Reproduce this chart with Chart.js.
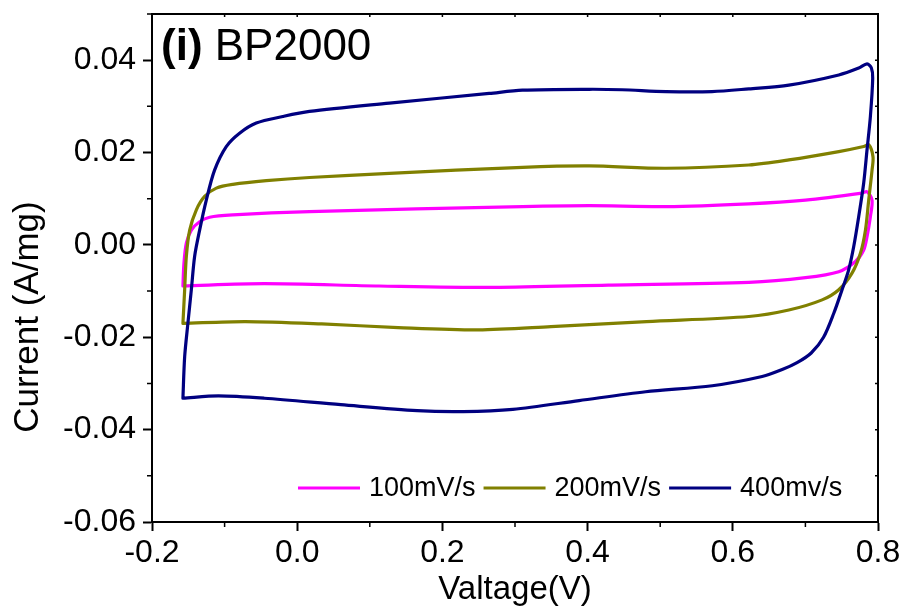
<!DOCTYPE html>
<html><head><meta charset="utf-8">
<script src="https://cdn.jsdelivr.net/npm/chart.js@4/dist/chart.umd.min.js"></script>
<style>html,body{margin:0;padding:0;background:#fff}#wrap{width:908px;height:613px}</style>
</head><body><div id="wrap"><canvas id="c" width="908" height="613"></canvas></div>
<script>
const seriesLabels = ['100mV/s', '200mV/s', '400mv/s'];
const seriesColors = ['#FF00FF', '#808000', '#000080'];

const volt100 = [-0.1574,-0.156,-0.1527,-0.1458,-0.1344,-0.1206,-0.0886,0.0169,0.3103,0.4021,0.5076,0.6221,0.7001,0.778,0.7849,0.7918,0.7895,0.7849,0.7803,0.7689,0.746,0.7001,0.6221,0.4285,0.2706,0.1127,-0.0453,-0.1574];
const curr100 = [-0.0089,-0.0040,0.0004,0.0032,0.0050,0.0060,0.0065,0.0072,0.0083,0.0085,0.0083,0.0089,0.0097,0.0112,0.0115,0.0097,0.0061,0.0018,-0.0011,-0.0036,-0.0058,-0.0071,-0.0081,-0.0087,-0.0092,-0.0089,-0.0084,-0.0089];

const volt200 = [-0.1574,-0.155,-0.1527,-0.1481,-0.1389,-0.1275,-0.1114,-0.0886,-0.0426,0.0169,0.127,0.3103,0.4021,0.5076,0.6221,0.6772,0.746,0.7803,0.7872,0.7931,0.7918,0.7872,0.7827,0.7758,0.7642,0.746,0.723,0.6772,0.6221,0.4812,0.3495,0.2495,0.1391,0.0337,-0.0715,-0.1574];
const curr200 = [-0.0170,-0.0097,-0.0025,0.0032,0.0076,0.0105,0.0123,0.0131,0.0139,0.0146,0.0155,0.0168,0.0171,0.0166,0.0173,0.0184,0.0202,0.0213,0.0217,0.0191,0.0162,0.0097,0.0032,-0.0018,-0.0061,-0.0097,-0.0119,-0.0141,-0.0155,-0.0166,-0.0177,-0.0184,-0.0179,-0.0171,-0.0166,-0.0170];

const volt400 = [-0.1574,-0.155,-0.1505,-0.1458,-0.1413,-0.1344,-0.1252,-0.1138,-0.0977,-0.0794,-0.0564,-0.0198,0.0169,0.127,0.2645,0.3103,0.4021,0.4475,0.5076,0.5713,0.6221,0.6772,0.746,0.7735,0.7849,0.7909,0.7927,0.7895,0.7849,0.7803,0.7734,0.7665,0.7596,0.7505,0.7391,0.725,0.7080,0.6885,0.668,0.6404,0.5717,0.48,0.3883,0.297,0.2285,0.1653,0.06,-0.0453,-0.1084,-0.1574];
const curr400 = [-0.0332,-0.0242,-0.0169,-0.0097,-0.0025,0.0032,0.0097,0.0162,0.0213,0.0242,0.0264,0.0278,0.0289,0.0307,0.0328,0.0335,0.0337,0.0336,0.0332,0.0332,0.0338,0.0346,0.0368,0.0383,0.0392,0.0383,0.0361,0.0278,0.0206,0.0134,0.0061,-0.0004,-0.0054,-0.0097,-0.0148,-0.0200,-0.0234,-0.0255,-0.0270,-0.0285,-0.0305,-0.0318,-0.0337,-0.0356,-0.0361,-0.0359,-0.0346,-0.0332,-0.0327,-0.0332];

const xTicks = [-0.2, 0.0, 0.2, 0.4, 0.6, 0.8];
const xMinor = [-0.1, 0.1, 0.3, 0.5, 0.7];
const yTicks = [-0.06, -0.04, -0.02, 0.00, 0.02, 0.04];
const yMinor = [-0.05, -0.03, -0.01, 0.01, 0.03, 0.05];
const xTitle = 'Valtage(V)';
const yTitle = 'Current (A/mg)';
const panelTag = '(i)';
const panelName = 'BP2000';

const FAM = '"Liberation Sans", Arial, Helvetica, sans-serif';
const pairs = (xs, ys) => xs.map((v, i) => ({x: v, y: ys[i]}));

const decor = {
  id: 'decor',
  afterDraw(chart) {
    const {ctx, chartArea: a, scales: {x, y}} = chart;
    ctx.save();
    ctx.strokeStyle = '#000';
    ctx.lineWidth = 2;
    ctx.strokeRect(a.left, a.top, a.right - a.left, a.bottom - a.top);
    ctx.lineWidth = 1.5;
    ctx.beginPath();
    xMinor.forEach(v => { const p = x.getPixelForValue(v); ctx.moveTo(p, a.bottom); ctx.lineTo(p, a.bottom + 5); });
    yMinor.forEach(v => { const p = y.getPixelForValue(v); ctx.moveTo(a.left, p); ctx.lineTo(a.left - 5, p); });
    xTicks.concat(xMinor).forEach(v => { const p = x.getPixelForValue(v); ctx.moveTo(p, a.top); ctx.lineTo(p, a.top + 3); });
    yTicks.concat(yMinor).forEach(v => { const p = y.getPixelForValue(v); ctx.moveTo(a.right, p); ctx.lineTo(a.right - 3, p); });
    ctx.stroke();

    // panel title
    ctx.fillStyle = '#000';
    ctx.textBaseline = 'alphabetic';
    ctx.textAlign = 'left';
    ctx.font = 'bold 44px ' + FAM;
    ctx.fillText(panelTag, 161, 60);
    const w = ctx.measureText(panelTag + ' ').width;
    ctx.font = '44px ' + FAM;
    ctx.fillText(panelName, 161 + w, 60);

    // y axis title
    ctx.save();
    ctx.translate(28, 317);
    ctx.rotate(-Math.PI / 2);
    ctx.textAlign = 'center';
    ctx.textBaseline = 'middle';
    ctx.font = '35px ' + FAM;
    ctx.fillText(yTitle, 0, 0);
    ctx.restore();

    // legend
    ctx.font = '27px ' + FAM;
    ctx.textBaseline = 'middle';
    let lx = 298;
    const ly = 488;
    chart.data.datasets.forEach(ds => {
      ctx.strokeStyle = ds.borderColor;
      ctx.lineWidth = 3;
      ctx.beginPath();
      ctx.moveTo(lx, ly); ctx.lineTo(lx + 62, ly);
      ctx.stroke();
      ctx.fillStyle = '#000';
      ctx.fillText(ds.label, lx + 71, ly + 1);
      lx += 71 + ctx.measureText(ds.label).width + 8;
    });
    ctx.restore();
  }
};

new Chart(document.getElementById('c'), {
  type: 'line',
  data: {
    datasets: [
      {label: seriesLabels[0], data: pairs(volt100, curr100), borderColor: seriesColors[0], order: 3},
      {label: seriesLabels[1], data: pairs(volt200, curr200), borderColor: seriesColors[1], order: 2},
      {label: seriesLabels[2], data: pairs(volt400, curr400), borderColor: seriesColors[2], order: 1}
    ]
  },
  options: {
    responsive: false,
    animation: false,
    devicePixelRatio: 1,
    layout: {padding: {top: 14, right: 30, left: 0, bottom: 0}},
    elements: {
      point: {radius: 0, hoverRadius: 0},
      line: {borderWidth: 3.2, tension: 0.3, fill: false, borderCapStyle: 'round', borderJoinStyle: 'round'}
    },
    plugins: {legend: {display: false}, tooltip: {enabled: false}},
    scales: {
      x: {
        type: 'linear', min: -0.2, max: 0.8,
        afterBuildTicks: s => { s.ticks = xTicks.map(v => ({value: v})); },
        afterFit: s => { s.height = 91; s.paddingLeft = 0; s.paddingRight = 0; },
        ticks: {callback: v => Number(v).toFixed(1), font: {family: FAM, size: 32}, color: '#000', padding: 3, maxRotation: 0, autoSkip: false},
        grid: {display: true, drawOnChartArea: false, drawTicks: true, tickLength: 9, tickWidth: 2, tickColor: '#000', color: '#000'},
        border: {display: true, color: '#000', width: 2},
        title: {display: true, text: xTitle, font: {family: FAM, size: 33}, color: '#000', padding: {top: 0, bottom: 3}}
      },
      y: {
        type: 'linear', min: -0.06, max: 0.05,
        afterBuildTicks: s => { s.ticks = yTicks.map(v => ({value: v})); },
        afterFit: s => { s.width = 152; s.paddingTop = 0; s.paddingBottom = 0; },
        ticks: {callback: v => Number(v).toFixed(2), font: {family: FAM, size: 32}, color: '#000', padding: 7, autoSkip: false},
        grid: {display: true, drawOnChartArea: false, drawTicks: true, tickLength: 9, tickWidth: 2, tickColor: '#000', color: '#000'},
        border: {display: true, color: '#000', width: 2},
        title: {display: false}
      }
    }
  },
  plugins: [decor]
});
</script>
</body></html>
